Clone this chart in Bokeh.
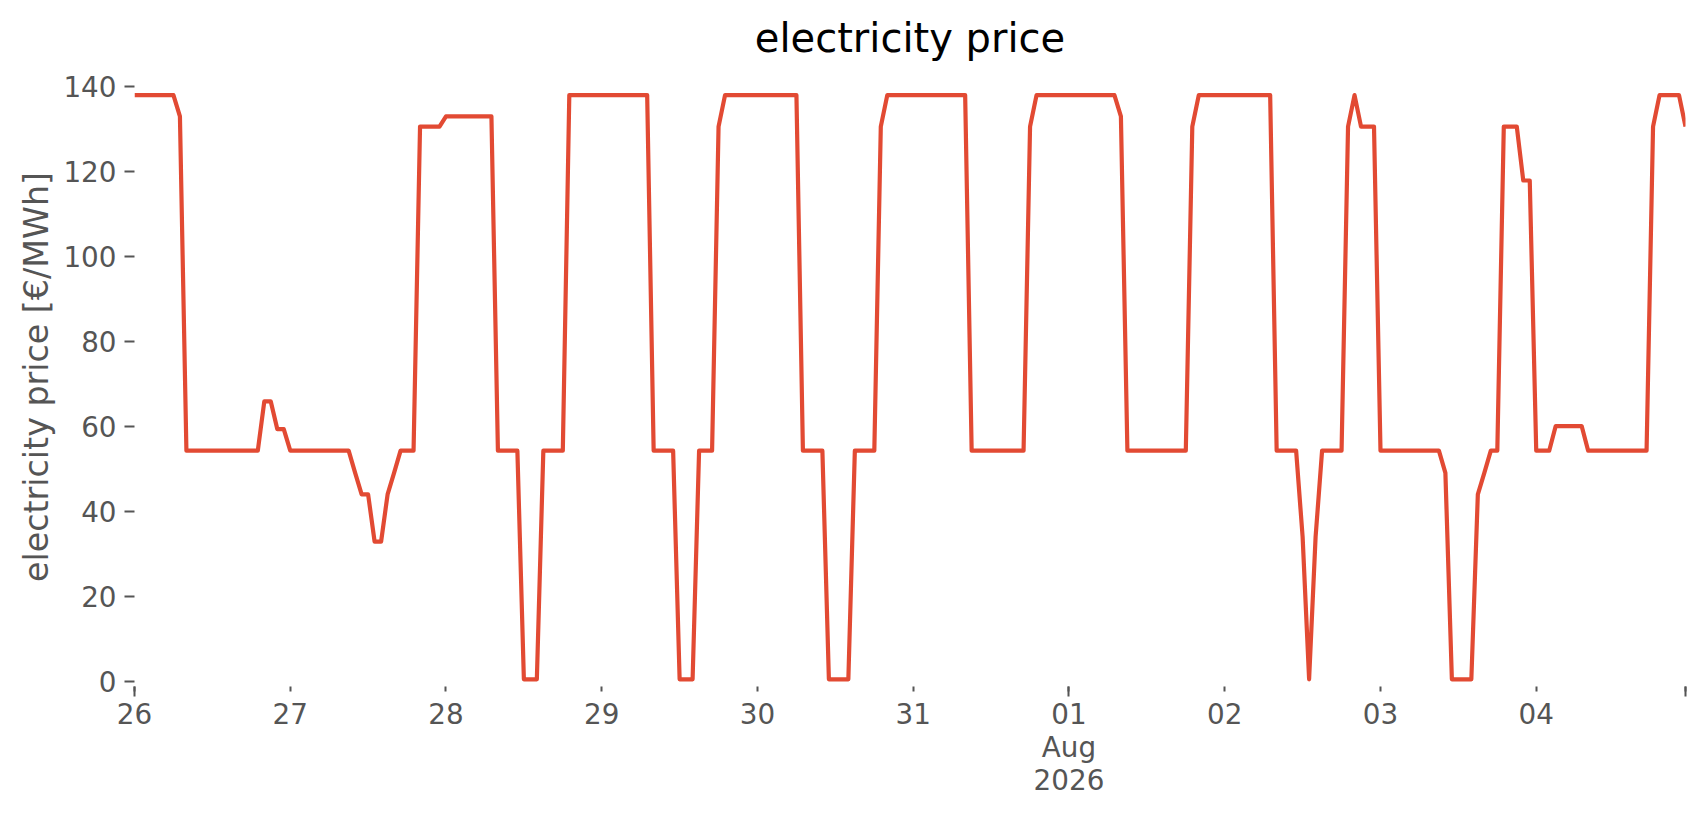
import pandas as pd
from bokeh.plotting import figure
from bokeh.models import FixedTicker, Range1d, ColumnDataSource
from bokeh.embed import file_html
from bokeh.resources import INLINE

# hourly electricity price [EUR/MWh], one list per day (Jul 26 .. Aug 4, 2026)
jul26 = [138.0, 138.0, 138.0, 138.0, 138.0, 138.0, 138.0, 133.0, 54.3, 54.3, 54.3, 54.3,
         54.3, 54.3, 54.3, 54.3, 54.3, 54.3, 54.3, 54.3, 65.9, 65.9, 59.4, 59.4]
jul27 = [54.3, 54.3, 54.3, 54.3, 54.3, 54.3, 54.3, 54.3, 54.3, 54.3, 49.1, 44.0,
         44.0, 32.9, 32.9, 44.0, 49.1, 54.3, 54.3, 54.3, 130.6, 130.6, 130.6, 130.6]
jul28 = [133.0, 133.0, 133.0, 133.0, 133.0, 133.0, 133.0, 133.0, 54.3, 54.3, 54.3, 54.3,
         0.5, 0.5, 0.5, 54.3, 54.3, 54.3, 54.3, 138.0, 138.0, 138.0, 138.0, 138.0]
jul29 = [138.0, 138.0, 138.0, 138.0, 138.0, 138.0, 138.0, 138.0, 54.3, 54.3, 54.3, 54.3,
         0.5, 0.5, 0.5, 54.3, 54.3, 54.3, 130.6, 138.0, 138.0, 138.0, 138.0, 138.0]
jul30 = [138.0, 138.0, 138.0, 138.0, 138.0, 138.0, 138.0, 54.3, 54.3, 54.3, 54.3, 0.5,
         0.5, 0.5, 0.5, 54.3, 54.3, 54.3, 54.3, 130.6, 138.0, 138.0, 138.0, 138.0]
jul31 = [138.0, 138.0, 138.0, 138.0, 138.0, 138.0, 138.0, 138.0, 138.0, 54.3, 54.3, 54.3,
         54.3, 54.3, 54.3, 54.3, 54.3, 54.3, 130.6, 138.0, 138.0, 138.0, 138.0, 138.0]
aug01 = [138.0, 138.0, 138.0, 138.0, 138.0, 138.0, 138.0, 138.0, 133.0, 54.3, 54.3, 54.3,
         54.3, 54.3, 54.3, 54.3, 54.3, 54.3, 54.3, 130.6, 138.0, 138.0, 138.0, 138.0]
aug02 = [138.0, 138.0, 138.0, 138.0, 138.0, 138.0, 138.0, 138.0, 54.3, 54.3, 54.3, 54.3,
         34.0, 0.5, 34.0, 54.3, 54.3, 54.3, 54.3, 130.6, 138.0, 130.6, 130.6, 130.6]
aug03 = [54.3, 54.3, 54.3, 54.3, 54.3, 54.3, 54.3, 54.3, 54.3, 54.3, 49.1, 0.5,
         0.5, 0.5, 0.5, 44.0, 49.1, 54.3, 54.3, 130.6, 130.6, 130.6, 117.9, 117.9]
aug04 = [54.3, 54.3, 54.3, 60.1, 60.1, 60.1, 60.1, 60.1, 54.3, 54.3, 54.3, 54.3,
         54.3, 54.3, 54.3, 54.3, 54.3, 54.3, 130.6, 138.0, 138.0, 138.0, 138.0, 130.6]

day_labels = ["26", "27", "28", "29", "30", "31", "01\nAug\n2026", "02", "03", "04"]
y_ticks = [0, 20, 40, 60, 80, 100, 120, 140]

days = [jul26, jul27, jul28, jul29, jul30, jul31, aug01, aug02, aug03, aug04]
price = [v for d in days for v in d]
start = pd.Timestamp("2026-07-26 00:00")
times = pd.date_range(start, periods=len(price), freq="h")
hours = list((times - start) / pd.Timedelta(hours=1))

src = ColumnDataSource(dict(x=hours, y=price))

FONT = "DejaVu Sans"
GREY = "#555555"

p = figure(width=1690, height=799, output_backend="svg", toolbar_location=None,
           x_range=Range1d(hours[0], hours[-1]), y_range=Range1d(-1.2, 144.5),
           title="electricity price",
           min_border_left=134, min_border_right=5, min_border_top=67, min_border_bottom=112)
p.background_fill_color = "white"
p.border_fill_color = "white"
p.outline_line_color = None
p.xgrid.visible = False
p.ygrid.visible = False

p.title.align = "center"
p.title.text_font = FONT
p.title.text_font_size = "40px"
p.title.text_font_style = "normal"
p.title.text_color = "black"
p.title.standoff = 13

p.line("x", "y", source=src, line_color="#E24A33", line_width=4.2, line_join="round")

day_ticks = [hours[i * 24] for i in range(len(day_labels))]
end_tick = hours[-1]
xa = p.xaxis[0]
xa.ticker = FixedTicker(ticks=day_ticks + [end_tick],
                        minor_ticks=[day_ticks[0], day_ticks[6], end_tick])
overrides = {t: lab for t, lab in zip(day_ticks, day_labels)}
overrides[end_tick] = ""
xa.major_label_overrides = overrides
xa.major_tick_out = 5
xa.major_tick_in = 0
xa.minor_tick_out = 10
xa.minor_tick_in = 0
xa.major_label_standoff = 1
xa.major_label_text_line_height = 1.0

ya = p.yaxis[0]
ya.ticker = FixedTicker(ticks=y_ticks)
ya.major_tick_out = 10
ya.major_tick_in = 0
ya.minor_tick_out = 0
ya.minor_tick_in = 0
ya.major_label_standoff = 8
ya.axis_label = "electricity price [€/MWh]"
ya.axis_label_text_font = FONT
ya.axis_label_text_font_size = "33.3px"
ya.axis_label_text_font_style = "normal"
ya.axis_label_text_color = GREY
ya.axis_label_standoff = 4

for ax in (xa, ya):
    ax.axis_line_color = None
    ax.major_tick_line_color = GREY
    ax.minor_tick_line_color = GREY
    ax.major_tick_line_width = 2
    ax.minor_tick_line_width = 2
    ax.major_label_text_font = FONT
    ax.major_label_text_font_size = "27.8px"
    ax.major_label_text_color = GREY

open("out.html", "w").write(file_html(p, INLINE))
